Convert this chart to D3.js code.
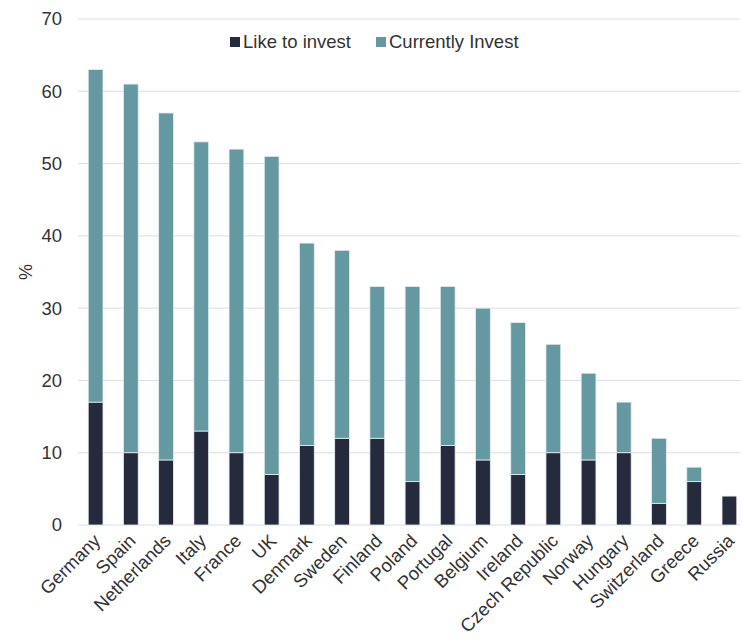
<!DOCTYPE html>
<html><head><meta charset="utf-8">
<script src="https://cdn.jsdelivr.net/npm/d3@7"></script>
<style>body{margin:0;background:#fff;font-family:"Liberation Sans",Arial,sans-serif;}</style>
</head><body>
<svg id="c" width="742" height="639"></svg>
<script>
const categories = ["Germany","Spain","Netherlands","Italy","France","UK","Denmark","Sweden","Finland","Poland","Portugal","Belgium","Ireland","Czech Republic","Norway","Hungary","Switzerland","Greece","Russia"];
const likeToInvest = [17,10,9,13,10,7,11,12,12,6,11,9,7,10,9,10,3,6,4];
const currentlyInvest = [46,51,48,40,42,44,28,26,21,27,22,21,21,15,12,7,9,2,0];
const yTicks = [0,10,20,30,40,50,60,70];
const seriesNames = ["Like to invest","Currently Invest"];
const colors = ["#262a3d","#6599a1"];

const svg = d3.select("#c");
const x = d3.scaleBand().domain(categories).range([78, 747]).paddingInner(0.58).paddingOuter(0.29);
const y = d3.scaleLinear().domain([0,70]).range([525, 19]);

// gridlines
svg.append("g").selectAll("line").data(yTicks).join("line")
  .attr("x1",78).attr("x2",740).attr("y1",d=>y(d)).attr("y2",d=>y(d))
  .attr("stroke","#dcdce8").attr("stroke-width",1);

// y labels
svg.append("g").selectAll("text").data(yTicks).join("text")
  .attr("x",62).attr("y",d=>y(d)).attr("dy","0.35em").attr("text-anchor","end")
  .attr("font-size",18.5).attr("fill","#333").text(d=>d);

svg.append("text").attr("transform","translate(32,272) rotate(-90)")
  .attr("text-anchor","middle").attr("font-size",18).attr("fill","#333").text("%");

const data = categories.map((c,i)=>({cat:c, a:likeToInvest[i], b:currentlyInvest[i]}));
const stack = d3.stack().keys(["a","b"])(data);

svg.append("g").selectAll("g").data(stack).join("g").attr("fill",(d,i)=>colors[i])
  .selectAll("rect").data(d=>d).join("rect")
  .attr("x",d=>x(d.data.cat)).attr("width",x.bandwidth())
  .attr("y",d=>y(d[1])).attr("height",d=>Math.max(0,y(d[0])-y(d[1])))
  .attr("stroke","#e6eef0").attr("stroke-width",0.8);

// x labels
svg.append("g").selectAll("text").data(categories).join("text")
  .attr("transform",d=>`translate(${x(d)+x.bandwidth()/2+6},${542}) rotate(-45)`)
  .attr("text-anchor","end").attr("font-size",18.5).attr("fill","#333").text(d=>d);

// legend
const leg = svg.append("g");
const legX = [230, 376];
seriesNames.forEach((n,i)=>{
  leg.append("rect").attr("x",legX[i]).attr("y",37).attr("width",10).attr("height",10).attr("fill",colors[i]);
  leg.append("text").attr("x",legX[i]+13).attr("y",42).attr("dy","0.35em").attr("font-size",18.5).attr("fill","#333").text(n);
});
</script>
</body></html>
